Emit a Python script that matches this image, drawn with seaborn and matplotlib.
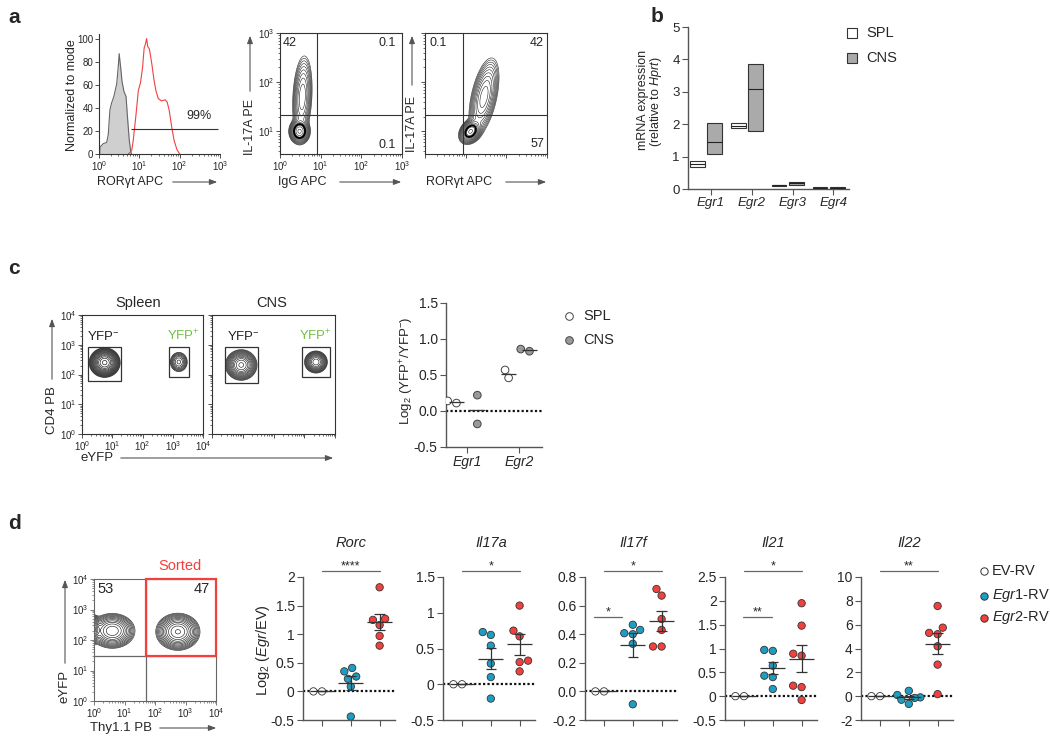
import numpy as np
import pandas as pd
import matplotlib
matplotlib.use("Agg")
import matplotlib.pyplot as plt
import seaborn as sns
from matplotlib.patches import Rectangle, FancyArrowPatch
from matplotlib.lines import Line2D
from matplotlib.ticker import LogLocator, NullFormatter, FuncFormatter

# ======================= DATA =======================
# panel a: histogram (log10 fluorescence, % of mode)
iso_logx = [0.02, 0.025, 0.107, 0.19, 0.23, 0.27, 0.31, 0.37, 0.44, 0.48, 0.50, 0.54, 0.57, 0.62, 0.67, 0.70, 0.75, 0.79, 0.81]
iso_pct = [0, 6, 9, 10, 17, 38, 44, 50, 61, 77, 87, 74, 63, 54, 50, 35, 12, 1.5, 0]
ror_logx = [0.73, 0.81, 0.85, 0.92, 0.975, 1.03, 1.08, 1.12, 1.15, 1.18, 1.21, 1.25, 1.31, 1.36, 1.41, 1.47, 1.55, 1.64, 1.69, 1.74, 1.80, 1.86, 1.93, 2.0]
ror_pct = [0, 3, 12, 35, 55, 62, 75, 92, 95, 100, 93, 91, 78, 65, 55, 48, 46, 47, 45, 38, 24, 12, 4, 0]
hist_gate = [0.785, 2.96, 22]          # log10 start, log10 end, height
hist_gate_label = "99%"

# flow populations: (log10 x centre, log10 y centre, sd x, sd y, correlation, weight)
a1_pops = [(0.48, 1.00, 0.09, 0.09, 0.0, 1.0), (0.55, 1.70, 0.095, 0.33, 0.2, 0.30)]
a2_pops = [(1.12, 1.00, 0.10, 0.09, 0.3, 1.0), (1.45, 1.70, 0.14, 0.30, 0.5, 0.40)]
a1_quad = [0.90, 1.34]
a2_quad = [0.93, 1.34]
a1_numbers = ["42", "0.1", "0.1"]
a2_numbers = ["0.1", "42", "57"]

# panel b: floating bars (min, max, median)
b_genes = ["Egr1", "Egr2", "Egr3", "Egr4"]
spl_min = [0.68, 1.87, 0.10, 0.03]
spl_max = [0.86, 2.05, 0.13, 0.05]
spl_med = [0.78, 1.95, 0.115, 0.04]
cns_min = [1.08, 1.80, 0.13, 0.03]
cns_max = [2.05, 3.85, 0.22, 0.06]
cns_med = [1.45, 3.10, 0.17, 0.045]

# panel c flow
spleen_pops = [(0.75, 2.40, 0.165, 0.16, 0.0, 1.0), (3.20, 2.42, 0.13, 0.15, 0.0, 0.08)]
cns_pops = [(0.95, 2.32, 0.17, 0.17, 0.0, 1.0), (3.38, 2.42, 0.13, 0.13, 0.0, 0.6)]
spleen_gates = [(0.20, 1.30, 1.77, 2.93), (2.87, 3.53, 1.93, 2.93)]
cns_gates = [(0.42, 1.50, 1.71, 2.92), (2.93, 3.84, 1.92, 2.92)]

# panel c dot plot
c_genes = ["Egr1", "Egr2"]
c_spl = {"Egr1": [0.11, 0.14], "Egr2": [0.57, 0.46]}
c_cns = {"Egr1": [0.22, -0.18], "Egr2": [0.83, 0.86]}

# panel d flow
d_pops = [(-0.05, 2.35, 0.10, 0.16, 0.0, 1.3), (0.60, 2.30, 0.26, 0.20, 0.0, 0.8), (2.75, 2.27, 0.25, 0.21, 0.0, 0.9)]
d_quad = [1.70, 1.48]
d_numbers = ["53", "47"]

# panel d dot plots
d_groups = ["EV-RV", "Egr1-RV", "Egr2-RV"]
d_genes = ["Rorc", "Il17a", "Il17f", "Il21", "Il22"]
d_ev = {g: [0.0, 0.0] for g in d_genes}
d_egr1 = {
    "Rorc": [0.35, 0.41, 0.22, 0.26, 0.085, -0.44],
    "Il17a": [0.69, 0.73, 0.54, 0.29, 0.10, -0.20],
    "Il17f": [0.43, 0.466, 0.40, 0.407, 0.333, -0.09],
    "Il21": [0.95, 0.97, 0.64, 0.43, 0.40, 0.15],
    "Il22": [0.45, 0.10, -0.10, -0.30, -0.65, -0.15],
}
d_egr2 = {
    "Rorc": [1.82, 1.27, 1.25, 1.16, 0.97, 0.80],
    "Il17a": [1.10, 0.75, 0.67, 0.33, 0.31, 0.18],
    "Il17f": [0.67, 0.716, 0.506, 0.43, 0.314, 0.314],
    "Il21": [1.95, 1.48, 0.85, 0.89, 0.22, 0.19, -0.08],
    "Il22": [7.57, 5.75, 5.31, 5.20, 4.19, 2.65, 0.17],
}
d_sig = {
    "Rorc": [(0, 2, "****")],
    "Il17a": [(0, 2, "*")],
    "Il17f": [(0, 2, "*"), (-0.35, 0.63, "*")],
    "Il21": [(0, 2, "*"), (-0.03, 0.98, "**")],
    "Il22": [(0, 2, "**")],
}

# ======================= STYLE =======================
sns.set_style("ticks")
plt.rcParams["font.family"] = ["Liberation Sans", "DejaVu Sans"]
plt.rcParams["mathtext.fontset"] = "custom"
plt.rcParams["mathtext.rm"] = "Liberation Sans"
plt.rcParams["mathtext.it"] = "Liberation Sans:italic"
plt.rcParams["mathtext.bf"] = "Liberation Sans:bold"
plt.rcParams["axes.unicode_minus"] = False

W, H = 1050, 742
fig = plt.figure(figsize=(W / 100, H / 100), dpi=100)
fig.patch.set_facecolor("white")

AX_GREY = "#555555"
BLUE = "#1d9dc2"
RED = "#f2403f"
GREEN = "#72bf44"


def axes_px(l, t, r, b):
    return fig.add_axes([l / W, 1 - b / H, (r - l) / W, (b - t) / H])


def ftext(x, y, s, **kw):
    kw.setdefault("ha", "center")
    kw.setdefault("va", "center")
    return fig.text(x / W, 1 - y / H, s, **kw)


def farrow(x1, y1, x2, y2):
    fig.add_artist(FancyArrowPatch((x1 / W, 1 - y1 / H), (x2 / W, 1 - y2 / H),
                                   transform=fig.transFigure,
                                   arrowstyle="-|>,head_length=0.45,head_width=0.17",
                                   mutation_scale=10, lw=0.8, color=AX_GREY))


def fmarker(x, y, fc, ec, ms=5.5):
    fig.add_artist(Line2D([x / W], [1 - y / H], transform=fig.transFigure, marker="o",
                          ms=ms, mfc=fc, mec=ec, mew=0.7, ls="none"))


def flow_ax(l, t, r, b, xlog, ylog, xlabels=True, ylabels=True, spine="#333333"):
    ax = axes_px(l, t, r, b)
    ax.set_xscale("log")
    ax.set_yscale("log")
    ax.set_xlim(10 ** xlog[0], 10 ** xlog[1])
    ax.set_ylim(10 ** ylog[0], 10 ** ylog[1])
    for axis in (ax.xaxis, ax.yaxis):
        axis.set_major_locator(LogLocator(base=10, numticks=12))
        axis.set_minor_locator(LogLocator(base=10, subs=np.arange(2, 10), numticks=12))
        axis.set_minor_formatter(NullFormatter())
    ax.tick_params(which="major", length=3, width=0.6, labelsize=7, pad=1, direction="out", color=spine)
    ax.tick_params(which="minor", length=1.6, width=0.5, direction="out", color=spine)
    ax.tick_params(labelbottom=xlabels, labelleft=ylabels)
    for s in ax.spines.values():
        s.set_color(spine)
        s.set_linewidth(0.8)
    ax.set_facecolor("white")
    return ax


def draw_pops(ax, pops, xr, yr, n=11, lo=0.012, hi=0.9, lw=0.4, bold=None):
    gx = np.linspace(xr[0] - 0.6, xr[1] + 0.3, 400)
    gy = np.linspace(yr[0] - 0.3, yr[1] + 0.3, 400)
    LX, LY = np.meshgrid(gx, gy)
    Z = np.zeros_like(LX)
    for mx, my, sx, sy, rho, w in pops:
        dx = (LX - mx) / sx
        dy = (LY - my) / sy
        Z += w * np.exp(-(dx ** 2 - 2 * rho * dx * dy + dy ** 2) / (2 * (1 - rho ** 2)))
    levels = np.geomspace(lo, hi, n) * Z.max()
    ax.contour(10 ** LX, 10 ** LY, Z, levels=levels, colors="#222222", linewidths=lw)
    if bold is not None:
        ax.contour(10 ** LX, 10 ** LY, Z, levels=[bold * Z.max()], colors="k", linewidths=1.4)


# ======================= PANEL LABELS =======================
for lab, x, y in [("a", 14, 23), ("b", 657, 22), ("c", 14, 274), ("d", 14, 529)]:
    ftext(x, y, lab, fontsize=15, fontweight="bold", va="baseline")

# ======================= PANEL a =======================
axh = axes_px(99, 34, 220, 154)
axh.set_xscale("log")
axh.set_xlim(1, 1000)
axh.set_ylim(0, 104)
axh.fill_between(10 ** np.array(iso_logx), iso_pct, color="#cfcfcf", lw=0)
axh.plot(10 ** np.array(iso_logx), iso_pct, color="#666666", lw=0.8)
axh.plot(10 ** np.array(ror_logx), ror_pct, color=RED, lw=0.8)
axh.hlines(hist_gate[2], 10 ** hist_gate[0], 10 ** hist_gate[1], color="#333333", lw=0.8)
axh.set_yticks([0, 20, 40, 60, 80, 100])
axh.xaxis.set_major_locator(LogLocator(base=10, numticks=12))
axh.xaxis.set_minor_locator(LogLocator(base=10, subs=np.arange(2, 10), numticks=12))
axh.xaxis.set_minor_formatter(NullFormatter())
axh.tick_params(which="major", length=3, width=0.6, labelsize=7, pad=1, color="#333333")
axh.tick_params(which="minor", length=1.6, width=0.5, color="#333333")
sns.despine(ax=axh)
for s in ("left", "bottom"):
    axh.spines[s].set_color("#333333")
    axh.spines[s].set_linewidth(0.8)
ftext(199, 116, hist_gate_label, fontsize=9)
ftext(72, 95, "Normalized to mode", fontsize=9, rotation=90)
ftext(97, 182, "ROR\u03b3t APC", fontsize=9, ha="left")
farrow(170, 182, 220, 182)

# contour 1
ax1 = flow_ax(280, 33, 402, 154, (0, 3), (0.54, 3))
draw_pops(ax1, a1_pops, (0, 3), (0.54, 3), n=13, bold=0.32)
ax1.axvline(10 ** a1_quad[0], color="#333333", lw=0.8)
ax1.axhline(10 ** a1_quad[1], color="#333333", lw=0.8)
ftext(290, 43, a1_numbers[0], fontsize=9)
ftext(387, 43, a1_numbers[1], fontsize=9)
ftext(387, 145, a1_numbers[2], fontsize=9)
ftext(250, 127, "IL-17A PE", fontsize=9, rotation=90)
farrow(250, 94, 250, 33)
ftext(278, 182, "IgG APC", fontsize=9, ha="left")
farrow(337, 182, 404, 182)

# contour 2
ax2 = flow_ax(425, 33, 547, 154, (0, 3), (0.54, 3), xlabels=False, ylabels=False)
draw_pops(ax2, a2_pops, (0, 3), (0.54, 3), n=13, bold=0.45)
ax2.axvline(10 ** a2_quad[0], color="#333333", lw=0.8)
ax2.axhline(10 ** a2_quad[1], color="#333333", lw=0.8)
ftext(438, 43, a2_numbers[0], fontsize=9)
ftext(537, 43, a2_numbers[1], fontsize=9)
ftext(537, 144, a2_numbers[2], fontsize=9)
ftext(412, 124, "IL-17A PE", fontsize=9, rotation=90)
farrow(412, 88, 412, 33)
ftext(426, 182, "ROR\u03b3t APC", fontsize=9, ha="left")
farrow(503, 182, 549, 182)

# ======================= PANEL b =======================
axb = axes_px(688, 27, 849, 189)
xb = np.arange(len(b_genes))
bw = 0.36
off = 0.21
axb.bar(xb - off, np.array(spl_max) - np.array(spl_min), bottom=spl_min, width=bw,
        color="white", edgecolor="#333333", lw=0.8, zorder=2)
axb.bar(xb + off, np.array(cns_max) - np.array(cns_min), bottom=cns_min, width=bw,
        color="#aaaaaa", edgecolor="#333333", lw=0.8, zorder=2)
axb.hlines(spl_med, xb - off - bw / 2, xb - off + bw / 2, color="#222222", lw=0.8, zorder=3)
axb.hlines(cns_med, xb + off - bw / 2, xb + off + bw / 2, color="#222222", lw=0.8, zorder=3)
axb.set_xlim(-0.44, 3.5)
axb.set_ylim(0, 5)
axb.set_yticks([0, 1, 2, 3, 4, 5])
axb.set_xticks(xb + 0.12)
axb.set_xticklabels(b_genes, fontstyle="italic", fontsize=9.5)
axb.tick_params(axis="y", labelsize=9.5)
axb.tick_params(length=4, width=0.8, color=AX_GREY, pad=2)
sns.despine(ax=axb)
for s in ("left", "bottom"):
    axb.spines[s].set_color(AX_GREY)
    axb.spines[s].set_linewidth(1.0)
ftext(643, 100, "mRNA expression", fontsize=9, rotation=90)
ftext(656, 102, "(relative to $\\mathit{Hprt}$)", fontsize=9, rotation=90)
for y, lab, fc in [(33, "SPL", "white"), (58, "CNS", "#aaaaaa")]:
    fig.add_artist(Rectangle((847 / W, 1 - (y + 5) / H), 10 / W, 10 / H, transform=fig.transFigure,
                             fc=fc, ec="#333333", lw=0.8))
    ftext(866, y, lab, fontsize=10.5, ha="left")

# ======================= PANEL c =======================
axs = flow_ax(82, 315, 203, 434, (0, 4), (0, 4))
draw_pops(axs, spleen_pops, (0, 4), (0, 4), n=16, lo=0.008, lw=0.5)
axc = flow_ax(212, 315, 335, 434, (0, 4), (0, 4), xlabels=False, ylabels=False)
draw_pops(axc, cns_pops, (0, 4), (0, 4), n=14, lo=0.01, lw=0.45)
for ax, gates in [(axs, spleen_gates), (axc, cns_gates)]:
    for x0, x1, y0, y1 in gates:
        ax.add_patch(Rectangle((10 ** x0, 10 ** y0), 10 ** x1 - 10 ** x0, 10 ** y1 - 10 ** y0,
                               fill=False, ec="#333333", lw=0.9, zorder=4))
ftext(138, 303, "Spleen", fontsize=10.5)
ftext(272, 303, "CNS", fontsize=10.5)
for x in (103, 243):
    ftext(x, 336, "YFP$^{-}$", fontsize=9.5, color="#222222")
for x in (183, 315):
    ftext(x, 336, "YFP$^{+}$", fontsize=9.5, color=GREEN)
ftext(52, 410, "CD4 PB", fontsize=9.5, rotation=90)
farrow(52, 382, 52, 316)
ftext(80, 458, "eYFP", fontsize=9.5, ha="left")
farrow(118, 458, 336, 458)

# dot plot c
axd = axes_px(446, 303, 542, 447)
rows = []
for g in c_genes:
    for v in c_spl[g]:
        rows.append((g, "SPL", v))
    for v in c_cns[g]:
        rows.append((g, "CNS", v))
c_df = pd.DataFrame(rows, columns=["gene", "tissue", "value"])
axd.plot([-0.40, 1.44], [0, 0], color="#111111", lw=1.6, ls=(0, (1, 1)), zorder=1)
sns.swarmplot(data=c_df, x="gene", y="value", hue="tissue", order=c_genes, hue_order=["SPL", "CNS"],
              dodge=True, palette={"SPL": "white", "CNS": "#9a9a9a"}, size=5.5, edgecolor="#444444",
              linewidth=0.7, legend=False, ax=axd, zorder=3)
for i, g in enumerate(c_genes):
    for dx, vals in [(-0.2, c_spl[g]), (0.2, c_cns[g])]:
        m = np.mean(vals)
        axd.hlines(m, i + dx - 0.15, i + dx + 0.15, color="#333333", lw=0.9, zorder=4)
axd.set_xlim(-0.40, 1.44)
axd.set_ylim(-0.5, 1.5)
axd.set_yticks([-0.5, 0, 0.5, 1.0, 1.5])
axd.yaxis.set_major_formatter(FuncFormatter(lambda v, p: "%.1f" % v))
axd.set_xticks([0, 1])
axd.set_xticklabels(c_genes, fontstyle="italic", fontsize=10)
axd.tick_params(axis="y", labelsize=10)
axd.tick_params(length=4, width=0.8, color=AX_GREY, pad=2)
axd.set_xlabel("")
axd.set_ylabel("")
sns.despine(ax=axd)
for s in ("left", "bottom"):
    axd.spines[s].set_color(AX_GREY)
    axd.spines[s].set_linewidth(1.0)
ftext(407, 371, "Log$_2$ (YFP$^{+}$/YFP$^{-}$)", fontsize=9.5, rotation=90)
fmarker(569, 316, "white", "#444444")
fmarker(569, 340, "#9a9a9a", "#444444")
ftext(583, 316, "SPL", fontsize=10.5, ha="left")
ftext(583, 340, "CNS", fontsize=10.5, ha="left")

# ======================= PANEL d =======================
axf = flow_ax(94, 579, 216, 701, (0, 4), (0, 4), spine="#666666")
draw_pops(axf, d_pops, (0, 4), (0, 4), n=14, lo=0.01, lw=0.45)
axf.axvline(10 ** d_quad[0], color="#666666", lw=0.9)
axf.axhline(10 ** d_quad[1], color="#666666", lw=0.9)
axf.add_patch(Rectangle((10 ** d_quad[0], 10 ** d_quad[1]), 10 ** 4 - 10 ** d_quad[0], 10 ** 4 - 10 ** d_quad[1],
                        fill=False, ec=RED, lw=1.6, zorder=5, clip_on=False))
ftext(180, 566, "Sorted", fontsize=10.5, color=RED)
ftext(106, 589, d_numbers[0], fontsize=10.5)
ftext(202, 589, d_numbers[1], fontsize=10.5)
ftext(65, 686, "eYFP", fontsize=9.5, rotation=90)
farrow(65, 666, 65, 577)
ftext(90, 728, "Thy1.1 PB", fontsize=9.5, ha="left")
farrow(157, 728, 219, 728)

d_colors = {"EV-RV": "white", "Egr1-RV": BLUE, "Egr2-RV": RED}
d_layout = {
    "Rorc": dict(l=303, ylim=(-0.5, 2.0), step=0.5, fmt="%g"),
    "Il17a": dict(l=443, ylim=(-0.5, 1.5), step=0.5, fmt="%g"),
    "Il17f": dict(l=585, ylim=(-0.2, 0.8), step=0.2, fmt="%.1f"),
    "Il21": dict(l=725, ylim=(-0.5, 2.5), step=0.5, fmt="%g"),
    "Il22": dict(l=861, ylim=(-2, 10), step=2, fmt="%g"),
}
TOP, BOT = 577, 720
XL = (-0.66, 2.55)
SP = 28.8
for gname in d_genes:
    lay = d_layout[gname]
    l = lay["l"]
    r = l + (XL[1] - XL[0]) * SP
    ax = axes_px(l, TOP, r, BOT)
    ev, e1, e2 = d_ev[gname], d_egr1[gname], d_egr2[gname]
    df = pd.DataFrame({"group": ["EV-RV"] * len(ev) + ["Egr1-RV"] * len(e1) + ["Egr2-RV"] * len(e2),
                       "value": ev + e1 + e2})
    ax.plot(XL, [0, 0], color="#111111", lw=1.6, ls=(0, (1, 1)), zorder=1)
    sns.swarmplot(data=df, x="group", y="value", hue="group", order=d_groups, hue_order=d_groups,
                  palette=d_colors, size=5.3, edgecolor="#333333", linewidth=0.6, legend=False,
                  ax=ax, zorder=3)
    for i, vals in enumerate([ev, e1, e2]):
        v = np.array(vals)
        m = v.mean()
        se = v.std(ddof=1) / np.sqrt(len(v))
        ax.hlines(m, i - 0.43, i + 0.43, color="#333333", lw=0.9, zorder=4)
        ax.vlines(i, m - se, m + se, color="#333333", lw=0.9, zorder=4)
        ax.hlines([m - se, m + se], i - 0.18, i + 0.18, color="#333333", lw=0.9, zorder=4)
    y0, y1 = lay["ylim"]
    ax.set_xlim(*XL)
    ax.set_ylim(y0, y1)
    ax.set_yticks(np.arange(y0, y1 + lay["step"] / 2, lay["step"]))
    fmt = lay["fmt"]
    ax.yaxis.set_major_formatter(FuncFormatter(lambda v, p, fmt=fmt: fmt % (0 if abs(v) < 1e-9 else v)))
    ax.set_xticks([0, 1, 2])
    ax.set_xticklabels([])
    ax.tick_params(axis="y", labelsize=10)
    ax.tick_params(length=4, width=0.8, color=AX_GREY, pad=2)
    ax.set_xlabel("")
    ax.set_ylabel("")
    sns.despine(ax=ax)
    for s in ("left", "bottom"):
        ax.spines[s].set_color(AX_GREY)
        ax.spines[s].set_linewidth(1.0)
    # title
    ftext(l + (1 - XL[0]) * SP, 543, gname, fontsize=10.5, fontstyle="italic")
    # significance bars
    for k, (c0, c1, stars) in enumerate(d_sig[gname]):
        ypix = 571 if k == 0 else 617
        yd = y0 + (BOT - ypix) / (BOT - TOP) * (y1 - y0)
        ax.plot([c0, c1], [yd, yd], color="#666666", lw=0.9, clip_on=False)
        ftext(l + ((c0 + c1) / 2 - XL[0]) * SP, ypix - 2, stars, fontsize=9, va="baseline")

ftext(263, 650, "Log$_2$ ($\\mathit{Egr}$/EV)", fontsize=10.5, rotation=90)
for y, lab, c in [(571, "EV-RV", "white"), (596, "$\\mathit{Egr1}$-RV", BLUE), (618, "$\\mathit{Egr2}$-RV", RED)]:
    fmarker(984, y, c, "#333333", ms=5.3)
    ftext(992, y, lab, fontsize=10.5, ha="left")

fig.savefig("out.png", dpi=100, facecolor="white")
